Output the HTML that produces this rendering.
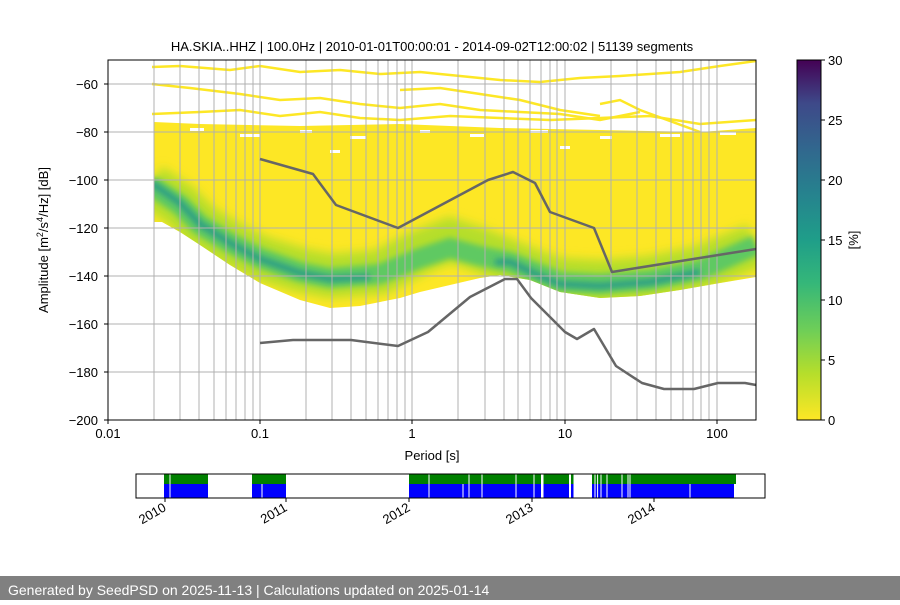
<!DOCTYPE html>
<html><head><meta charset="utf-8"><style>
body{margin:0;background:#fff;width:900px;height:600px;overflow:hidden;font-family:"Liberation Sans","DejaVu Sans",sans-serif}
</style></head><body>
<svg width="900" height="600" xmlns="http://www.w3.org/2000/svg" font-family="Liberation Sans, DejaVu Sans, sans-serif">
<defs>
<linearGradient id="vir" x1="0" y1="1" x2="0" y2="0">
<stop offset="0" stop-color="#fde725"/><stop offset="0.13" stop-color="#b5de2b"/><stop offset="0.25" stop-color="#6ece58"/><stop offset="0.38" stop-color="#35b779"/><stop offset="0.5" stop-color="#1f9e89"/><stop offset="0.63" stop-color="#26828e"/><stop offset="0.75" stop-color="#31688e"/><stop offset="0.88" stop-color="#3e4989"/><stop offset="1" stop-color="#440154"/>
</linearGradient>
<filter id="b1" x="-10%" y="-50%" width="120%" height="200%"><feGaussianBlur stdDeviation="5"/></filter>
<filter id="b2" x="-10%" y="-50%" width="120%" height="200%"><feGaussianBlur stdDeviation="3"/></filter>
<clipPath id="pc"><rect x="108" y="60" width="648" height="360"/></clipPath>
<clipPath id="yb"><path d="M154,130 L200,128 L300,126 L400,124 L500,128 L600,130 L700,132 L756,128 L756,277 L720,283 L680,290 L640,296 L600,298 L560,292 L530,280 L500,275 L480,278 L450,285 L420,292 L400,298 L360,306 L330,308 L300,300 L260,283 L230,265 L200,245 L180,232 L162,222 L154,222 Z"/></clipPath>
</defs>
<g clip-path="url(#pc)">
<path d="M154,122 L200,124 L300,126 L400,124 L500,128 L600,130 L700,132 L756,128 L756,277 L720,283 L680,290 L640,296 L600,298 L560,292 L530,280 L500,275 L480,278 L450,285 L420,292 L400,298 L360,306 L330,308 L300,300 L260,283 L230,265 L200,245 L180,232 L162,222 L154,222 Z" fill="#fde725"/>
<g fill="none" stroke="#fde725" stroke-width="2.5">
<path d="M152,67 L180,66 L230,70 L260,66 L300,72 L340,70 L380,74 L420,72 L460,76 L500,80 L540,82 L580,78 L620,76 L680,72 L720,66 L756,61"/>
<path d="M152,84 L190,88 L240,94 L280,100 L320,98 L360,104 L400,108 L440,104 L480,110 L520,112 L560,114 L600,120 L640,112"/>
<path d="M152,114 L200,112 L240,110 L280,116 L320,112 L360,118 L400,120 L450,116 L500,118 L550,120 L600,118 L650,116 L700,124 L756,120"/>
<path d="M400,90 L440,88 L480,94 L520,100 L560,110 L600,116"/>
<path d="M600,104 L620,100 L640,110 L700,132"/>
</g>
<g fill="#fff">
<rect x="190" y="128" width="14" height="3"/><rect x="240" y="134" width="20" height="3"/><rect x="300" y="130" width="12" height="3"/><rect x="350" y="136" width="16" height="3"/><rect x="420" y="130" width="10" height="3"/><rect x="470" y="134" width="14" height="3"/><rect x="530" y="130" width="18" height="3"/><rect x="600" y="136" width="12" height="3"/><rect x="660" y="134" width="20" height="3"/><rect x="720" y="132" width="16" height="3"/><rect x="330" y="150" width="10" height="3"/><rect x="560" y="146" width="10" height="3"/>
</g>
<g clip-path="url(#yb)">
<path d="M150,185 L180,205 L200,225 L230,243 L260,258 L300,270 L330,276 L380,272 L420,252 L450,240 L480,250 L510,262 L540,274 L560,280 L600,282 L650,278 L700,268 L756,245" fill="none" stroke="#b5de2b" stroke-width="44" filter="url(#b1)"/>
<path d="M150,185 L180,205 L200,225 L230,243 L260,258 L300,272 L330,278 L380,274 L420,258 L450,248 L480,256 L510,262 L540,274 L560,282 L600,284 L650,280 L700,270 L756,245" fill="none" stroke="#5ec962" stroke-width="20" filter="url(#b2)"/>
<path d="M150,182 L180,203 L200,224 L230,243 L260,259 L300,273 L330,279 L370,277 M495,262 L510,262 L540,276 L560,284 L600,286 L650,282 L700,272" fill="none" stroke="#2a9c88" stroke-width="6" filter="url(#b2)"/>
</g>
</g>
<g stroke="#b0b0b0" stroke-width="1">
<path d="M108,84H756M108,132H756M108,180H756M108,228H756M108,276H756M108,324H756M108,372H756"/>
<path d="M154,60V420M180,60V420M199,60V420M214,60V420M226,60V420M236,60V420M245,60V420M253,60V420M260,60V420M306,60V420M332,60V420M351,60V420M366,60V420M378,60V420M388,60V420M397,60V420M405,60V420M412,60V420M458,60V420M485,60V420M504,60V420M518,60V420M530,60V420M541,60V420M550,60V420M557,60V420M565,60V420M611,60V420M637,60V420M656,60V420M671,60V420M683,60V420M693,60V420M701,60V420M709,60V420M717,60V420"/>
</g>
<g fill="none" stroke="#666" stroke-width="2.5" stroke-linejoin="round">
<path d="M260,159 L313,174 L336,205 L398,228 L488,180 L513,172 L535,183 L550,212 L594,228 L612,272 L756,249"/>
<path d="M260,343 L293,340 L351,340 L398,346 L428,332 L470,297 L505,279 L517,279 L531,298 L565,332 L577,339 L594,329 L616,366 L642,383 L664,389 L694,389 L718,383 L745,383 L756,385"/>
</g>
<rect x="108" y="60" width="648" height="360" fill="none" stroke="#000" stroke-width="1"/>
<g font-size="13" fill="#000">
<g text-anchor="end">
<text x="98" y="89">−60</text><text x="98" y="137">−80</text><text x="98" y="185">−100</text><text x="98" y="233">−120</text><text x="98" y="281">−140</text><text x="98" y="329">−160</text><text x="98" y="377">−180</text><text x="98" y="425">−200</text>
</g>
<path d="M104,84H108M104,132H108M104,180H108M104,228H108M104,276H108M104,324H108M104,372H108M104,420H108M108,420V424M260,420V424M412,420V424M565,420V424M717,420V424" stroke="#000"/>
<g text-anchor="middle">
<text x="108" y="438">0.01</text><text x="260" y="438">0.1</text><text x="412" y="438">1</text><text x="565" y="438">10</text><text x="717" y="438">100</text>
<text x="432" y="460">Period [s]</text>
<text x="432" y="51">HA.SKIA..HHZ | 100.0Hz | 2010-01-01T00:00:01 - 2014-09-02T12:00:02 | 51139 segments</text>
</g>
<text transform="translate(48,240) rotate(-90)" text-anchor="middle">Amplitude [m<tspan dy="-5" font-size="9">2</tspan><tspan dy="5">/s</tspan><tspan dy="-5" font-size="9">4</tspan><tspan dy="5">/Hz] [dB]</tspan></text>
</g>
<rect x="797" y="60" width="24" height="360" fill="url(#vir)" stroke="#000" stroke-width="1"/>
<g font-size="13">
<path d="M821,60h4M821,120h4M821,180h4M821,240h4M821,300h4M821,360h4M821,420h4" stroke="#000"/>
<text x="828" y="65">30</text><text x="828" y="125">25</text><text x="828" y="185">20</text><text x="828" y="245">15</text><text x="828" y="305">10</text><text x="828" y="365">5</text><text x="828" y="425">0</text>
<text transform="translate(858,240) rotate(-90)" text-anchor="middle">[%]</text>
</g>
<g>
<rect x="164" y="474" width="44" height="10" fill="#008000"/><rect x="164" y="484" width="44" height="14" fill="#0000ff"/>
<rect x="252" y="474" width="34" height="10" fill="#008000"/><rect x="252" y="484" width="34" height="14" fill="#0000ff"/>
<rect x="409" y="474" width="160" height="10" fill="#008000"/><rect x="409" y="484" width="160" height="14" fill="#0000ff"/>
<rect x="571" y="474" width="2.5" height="24" fill="#0000ff"/><rect x="571" y="474" width="2.5" height="10" fill="#008000"/>
<rect x="592" y="474" width="144" height="10" fill="#008000"/><rect x="592" y="484" width="142" height="14" fill="#0000ff"/>
<path d="M170,474V498M262,484V498M429,474V498M463,484V498M469,474V498M482,474V498M516,474V498M534,474V498M595,474V498M597.6,474V498M601,474V498M607,474V498M622,474V498M628,474V498M630,474V498M690,484V498" stroke="#fff" stroke-width="1"/>
<rect x="541" y="474" width="2.5" height="24" fill="#fff"/>
<rect x="136" y="474" width="629" height="24" fill="none" stroke="#000"/>
<path d="M165,498v4M286,498v4M409,498v4M532,498v4M654,498v4" stroke="#000"/>
<g font-size="13" text-anchor="end">
<text transform="translate(167,510) rotate(-30)">2010</text>
<text transform="translate(288,510) rotate(-30)">2011</text>
<text transform="translate(411,510) rotate(-30)">2012</text>
<text transform="translate(534,510) rotate(-30)">2013</text>
<text transform="translate(656,510) rotate(-30)">2014</text>
</g>
</g>
<rect x="0" y="576" width="900" height="24" fill="#808080"/>
<text x="8" y="595" font-size="14" fill="#fff">Generated by SeedPSD on 2025-11-13 | Calculations updated on 2025-01-14</text>
</svg>
</body></html>
